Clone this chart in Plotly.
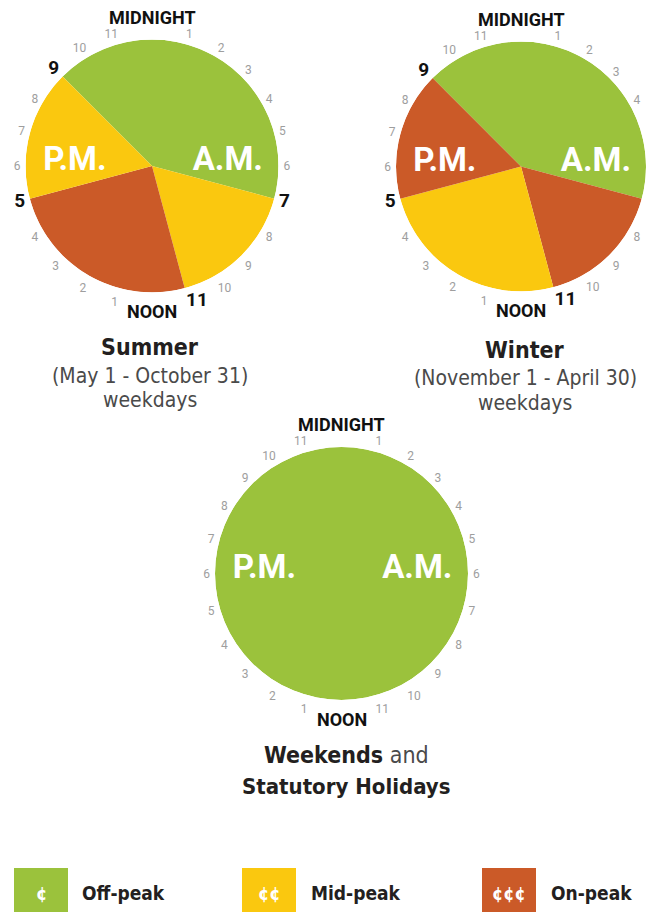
import plotly.graph_objects as go

# ---------------- data ----------------
hour_labels = ["MIDNIGHT", "1", "2", "3", "4", "5", "6", "7", "8", "9", "10", "11",
               "NOON", "1", "2", "3", "4", "5", "6", "7", "8", "9", "10", "11"]

tou_names = ["Off-peak", "Mid-peak", "On-peak"]
tou_colors = ["#9BC23C", "#FAC80F", "#CB5A28"]
tou_symbols = ["¢", "¢¢", "¢¢¢"]

summer_start = [21, 7, 11, 17]
summer_hours = [10, 4, 6, 4]
summer_tou = ["Off-peak", "Mid-peak", "On-peak", "Mid-peak"]

winter_start = [21, 7, 11, 17]
winter_hours = [10, 4, 6, 4]
winter_tou = ["Off-peak", "On-peak", "Mid-peak", "On-peak"]

weekend_start = [0]
weekend_hours = [24]
weekend_tou = ["Off-peak"]

half_day_labels = ["A.M.", "P.M."]

# ---------------- layout helpers ----------------
W, H = 646, 912
NARROW = "DejaVu Sans Condensed, Liberation Sans Narrow, Lato, sans-serif"
DIN = "Roboto, Inter, sans-serif"
color_of = dict(zip(tou_names, tou_colors))


def px_dom(x0, x1, y0, y1):
    return dict(x=[x0 / W, min(x1 / W, 1.0)], y=[1 - y1 / H, 1 - y0 / H])


def ticktext(boundaries):
    out = []
    for h, lab in enumerate(hour_labels):
        if h in (0, 12):
            out.append("")  # drawn as separate captions above / below
        elif h in boundaries:
            out.append('<span style="font-size:19px;color:#111111;font-weight:bold">%s</span>' % lab)
        else:
            out.append(lab)
    return out


# (subplot, starts, hours, tou, pixel box (x0, x1, y0, y1), show boundary hours)
charts = [
    ("polar", summer_start, summer_hours, summer_tou, (25.5, 278.5, 39.5, 292.5), True),
    ("polar2", winter_start, winter_hours, winter_tou, (396, 646, 41.5, 291.5), True),
    ("polar3", weekend_start, weekend_hours, weekend_tou, (215, 468, 447, 700), False),
]

fig = go.Figure()
layout_polars = {}
annotations = []
deg_per_hour = 360 / 24


def txt(x, y, s, size, color="#231F20", anchor="center", family=NARROW):
    annotations.append(dict(x=x / W, y=1 - y / H, xref="paper", yref="paper", text=s,
                            showarrow=False, xanchor=anchor, yanchor="middle",
                            font=dict(family=family, size=size, color=color)))


for name, starts, hours, tous, box, show_bounds in charts:
    theta = [((s + h / 2) * deg_per_hour) % 360 for s, h in zip(starts, hours)]
    width = [h * deg_per_hour for h in hours]
    fig.add_trace(go.Barpolar(
        r=[1] * len(hours), theta=theta, width=width, base=0,
        marker=dict(color=[color_of[t] for t in tous], line=dict(width=0)),
        subplot=name, hoverinfo="skip", showlegend=False,
    ))
    fig.add_trace(go.Scatterpolar(
        r=[0.6, 0.61], theta=[87, 273], mode="text", text=half_day_labels,
        textfont=dict(family=DIN, size=33, color="white", weight="bold"),
        subplot=name, hoverinfo="skip", showlegend=False,
    ))
    bounds = set(starts) if show_bounds else set()
    x0, x1, y0, y1 = box
    layout_polars[name] = dict(
        domain=px_dom(x0, x1, y0, y1), bgcolor="rgba(0,0,0,0)", bargap=0, hole=0,
        radialaxis=dict(visible=False, range=[0, 1]),
        angularaxis=dict(
            rotation=90, direction="clockwise",
            tickvals=[h * deg_per_hour for h in range(24)],
            ticktext=ticktext(bounds),
            tickfont=dict(family=DIN, size=12, color="#9E9E9E"),
            ticks="outside", ticklen=2, tickcolor="rgba(0,0,0,0)",
            showgrid=False, showline=False,
        ),
    )
    cx = (x0 + min(x1, W)) / 2
    txt(cx, y0 - 22, "<b>%s</b>" % hour_labels[0], 18, "#111111", family=DIN)
    txt(cx, y1 + 19, "<b>%s</b>" % hour_labels[12], 18, "#111111", family=DIN)

fig.update_layout(**layout_polars)

txt(150, 347, "<b>Summer</b>", 23)
txt(150, 376, "(May 1 - October 31)", 21, "#4A4A4A")
txt(150, 400, "weekdays", 21, "#4A4A4A")

txt(525, 350, "<b>Winter</b>", 23)
txt(525, 378, "(November 1 - April 30)", 21, "#4A4A4A")
txt(525, 403, "weekdays", 21, "#4A4A4A")

txt(346, 755, '<b>Weekends</b> <span style="color:#4A4A4A">and</span>', 23)
txt(346, 786, "<b>Statutory Holidays</b>", 22)

# legend
legend_boxes = [(14, 68, 80), (242, 296, 309), (482, 536, 549)]
shapes = []
for (x0, x1, tx), nm, col, sym in zip(legend_boxes, tou_names, tou_colors, tou_symbols):
    shapes.append(dict(type="rect", xref="paper", yref="paper", x0=x0 / W, x1=x1 / W,
                       y0=1 - 918 / H, y1=1 - 868 / H, fillcolor=col, line=dict(width=0)))
    txt((x0 + x1) / 2, 893, "<b>%s</b>" % sym, 18, "white")
    txt(tx, 893, "<b>%s</b>" % nm, 19, "#231F20", anchor="left")

fig.update_layout(
    width=W, height=H, margin=dict(l=0, r=0, t=0, b=0),
    paper_bgcolor="white", plot_bgcolor="white",
    annotations=annotations, shapes=shapes, showlegend=False,
)

fig.write_html("out.html", config={"displayModeBar": False, "staticPlot": True},
               post_script="document.body.style.margin='0px';")
